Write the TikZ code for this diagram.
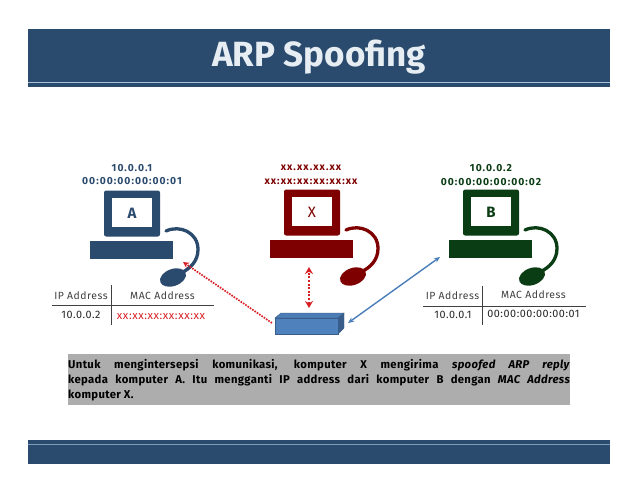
\documentclass[tikz,border=0pt]{standalone}
\usepackage{fontspec}
\setmainfont[LetterSpace=3]{Fira Sans}
\newfontfamily\titlefont{Fira Sans}
\newfontfamily\lblfont[LetterSpace=10]{Fira Sans}
\newfontfamily\cellfont[LetterSpace=5]{Fira Sans}
\usetikzlibrary{arrows.meta}
\definecolor{navy}{HTML}{2A4A6E}
\definecolor{headline}{HTML}{A9C3DC}
\definecolor{footline}{HTML}{7F9CB8}
\definecolor{titletext}{HTML}{E6EDF3}
\definecolor{xred}{HTML}{7F0000}
\definecolor{bgreen}{HTML}{0B3D14}
\definecolor{linkred}{HTML}{D81F26}
\definecolor{linkblue}{HTML}{4A7EBB}
\definecolor{sw}{HTML}{4F81BD}
\definecolor{swd}{HTML}{385D8A}
\definecolor{capt}{HTML}{ADADAD}
\tikzset{
 px/.style={x=1pt,y=-1pt},
 lbl/.style={inner sep=0pt,font=\lblfont\fontsize{10.3}{12}\selectfont\bfseries},
 cell/.style={inner sep=0pt,font=\cellfont\fontsize{10.4}{12}\selectfont,text=black!75},
 val/.style={inner sep=0pt,font=\cellfont\fontsize{10.8}{12}\selectfont,text=black!85},
 redval/.style={inner sep=0pt,font=\cellfont\fontsize{11.2}{12}\selectfont,text=linkred},
 captext/.style={inner sep=0pt,anchor=north west,text width=502pt,align=justify,font=\fontsize{11.3}{14.7}\selectfont\bfseries},
 redlink/.style={linkred,line width=1.7pt,dash pattern=on 1.6pt off 1.2pt,-{Stealth[length=6pt,width=6pt]}},
 redboth/.style={linkred,line width=2.4pt,dash pattern=on 2pt off 1.6pt,{Stealth[length=7pt,width=8pt]}-{Stealth[length=7pt,width=8pt]}},
 bluelink/.style={linkblue,line width=1.4pt,{Stealth[length=6pt,width=5pt]}-{Stealth[length=6pt,width=5pt]}},
}
\newcommand{\pcicon}[4]{%
 \begin{scope}[shift={(#1,#2)}]
  \fill[#3,rounded corners=2.2pt] (0,0) rectangle (56,46);
  \fill[white] (8,7.5) rectangle (48,36);
  \node[inner sep=0pt,text=#3,font=\titlefont\fontsize{15}{17}\selectfont] at (28,22.5) {#4};
  \fill[#3] (-14,50) rectangle (69,68.5);
  \draw[#3,line width=3.3pt,line cap=round] (62,40.5) .. controls (76,34) and (94,42) .. (94,59) .. controls (94,70) and (87,78) .. (76,83);
  \fill[#3,rotate around={20:(69,87)}] (69,87) ellipse (13.5pt and 8.5pt);
 \end{scope}}
\begin{document}
\begin{tikzpicture}[px]
\useasboundingbox (0,0) rectangle (638,493);
\fill[white] (0,0) rectangle (638,493);
\fill[navy] (28,29) rectangle (610,87);
\draw[headline,line width=0.9pt] (28,82.5) -- (610,82.5);
\fill[navy] (28,440) rectangle (610,464);
\draw[footline,line width=1.2pt] (28,444.8) -- (610,444.8);
\node[inner sep=0pt,text=titletext,font=\titlefont\fontsize{35}{40}\selectfont\bfseries] (title) at (319,57) {ARP Spoofing};
\pcicon{104}{190.5}{navy}{\bfseries A}
\pcicon{284}{189.5}{xred}{X}
\pcicon{463}{189.5}{bgreen}{\bfseries B}
\node[lbl,text=navy] (ipa) at (132,168) {10.0.0.1};
\node[lbl,text=navy] (maca) at (132,181) {00:00:00:00:00:01};
\node[lbl,text=xred] (ipx) at (311,168) {xx.xx.xx.xx};
\node[lbl,text=xred] (macx) at (311,182) {xx:xx:xx:xx:xx:xx};
\node[lbl,text=bgreen] (ipb) at (491,168) {10.0.0.2};
\node[lbl,text=bgreen] (macb) at (491,182) {00:00:00:00:00:02};
\fill[sw!85!swd,draw=swd,line width=0.4pt] (275,318) -- (281,313) -- (344,313) -- (338,318) -- cycle;
\fill[swd,draw=swd,line width=0.4pt] (338,318) -- (344,313) -- (344,328) -- (338,334) -- cycle;
\node[draw=swd,fill=sw,line width=0.6pt,inner sep=0pt,minimum width=63pt,minimum height=16pt] (sw) at (306.5,326) {};
\coordinate (aend) at (183,262);
\coordinate (xend) at (309,267);
\coordinate (xsw) at (309,308);
\coordinate (asw) at (272,323);
\coordinate (bsw) at (348,323);
\coordinate (bend) at (440,257);
\draw[redlink] (asw) -- (aend);
\draw[redboth] (xsw) -- (xend);
\draw[bluelink] (bsw) -- (bend);
\draw[black!75,line width=0.6pt] (111,285) -- (111,325);
\draw[black!75,line width=0.6pt] (52,305) -- (214,305);
\node[cell] (ta1) at (81,296) {IP Address};
\node[cell] (ta2) at (162.5,296) {MAC Address};
\node[val] (ta3) at (81,315) {10.0.0.2};
\node[redval] (ta4) at (161,317) {xx:xx:xx:xx:xx:xx};
\draw[black!75,line width=0.6pt] (482,286) -- (482,325);
\draw[black!75,line width=0.6pt] (423,306) -- (586,306);
\node[cell] (tb1) at (452.5,296) {IP Address};
\node[cell] (tb2) at (533.5,295) {MAC Address};
\node[val] (tb3) at (453,315) {10.0.0.1};
\node[val] (tb4) at (533.5,314) {00:00:00:00:00:01};
\fill[capt] (68,353.5) rectangle (570,405);
\node[captext] (capn) at (68,359.5) {Untuk mengintersepsi komunikasi, komputer X mengirima \textit{spoofed ARP reply}\linebreak kepada komputer A. Itu mengganti IP address dari komputer B dengan \textit{MAC Address}\linebreak komputer X.};
\end{tikzpicture}
\end{document}
